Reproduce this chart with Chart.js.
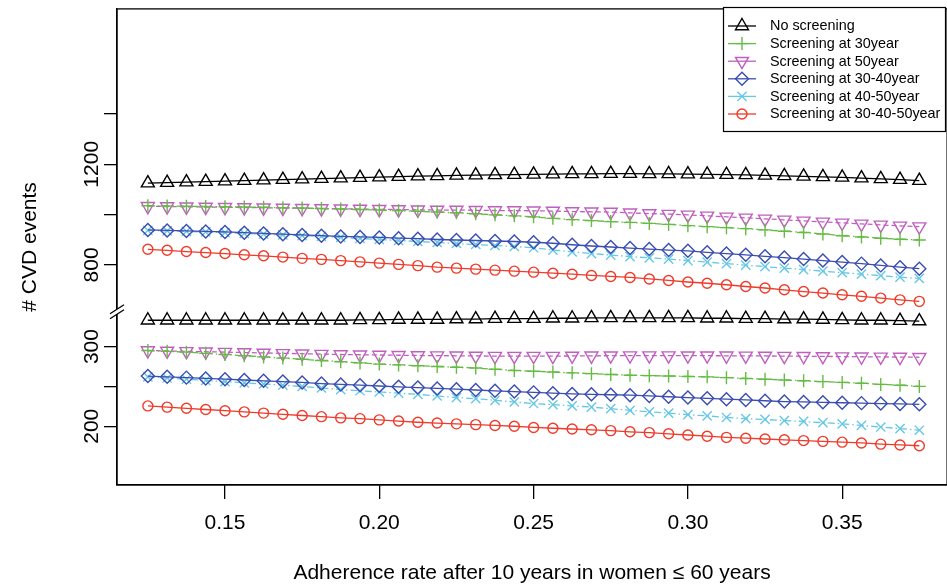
<!DOCTYPE html>
<html>
<head>
<meta charset="utf-8">
<script src="https://cdn.jsdelivr.net/npm/chart.js"></script>
<style>
  html, body { margin: 0; padding: 0; background: #fff; overflow: hidden; }
  #wrap { width: 956px; height: 585px; position: relative; }
</style>
</head>
<body>
<div id="wrap"><canvas id="cvd"></canvas></div>
<script>
// adherence rate (x) - 41 steps
const adherence = [0.125, 0.13125, 0.1375, 0.14375, 0.15, 0.15625, 0.1625, 0.16875, 0.175, 0.18125,
  0.1875, 0.19375, 0.2, 0.20625, 0.2125, 0.21875, 0.225, 0.23125, 0.2375, 0.24375,
  0.25, 0.25625, 0.2625, 0.26875, 0.275, 0.28125, 0.2875, 0.29375, 0.3, 0.30625,
  0.3125, 0.31875, 0.325, 0.33125, 0.3375, 0.34375, 0.35, 0.35625, 0.3625, 0.36875, 0.375];

const seriesNames = ['No screening', 'Screening at 30year', 'Screening at 50year',
  'Screening at 30-40year', 'Screening at 40-50year', 'Screening at 30-40-50year'];

// upper block (above the axis break)
const noScreenHigh = [1125,1127,1129,1131,1133,1135,1137,1139,1141,1143,1145,1147,1149,1151,1153,1154,1156,1157,1158,1159,
  1160,1161,1162,1162,1163,1163,1162,1162,1161,1160,1159,1158,1156,1154,1152,1150,1148,1145,1142,1139,1135];
const screen30High = [1035,1034,1033,1032,1031,1030,1029,1027,1026,1024,1022,1020,1018,1016,1013,1010,1007,1003,999,995,
  991,985,980,976,972,969,965,961,956,952,948,944,939,934,929,923,916,911,906,902,899];
const screen50High = [1033,1032,1031,1030,1029,1028,1027,1026,1025,1024,1023,1022,1021,1020,1019,1018,1018,1017,1016,1016,
  1015,1014,1012,1011,1010,1007,1004,1002,999,995,991,987,983,979,975,971,967,963,959,955,952];
const screen3040High = [939,937,935,933,931,928,925,922,919,916,913,911,909,906,904,901,899,897,895,893,
  890,886,880,875,871,867,863,859,856,850,845,840,834,829,823,817,811,805,798,791,785];
const screen4050High = [937,935,933,931,928,925,922,919,916,913,909,905,901,897,893,889,885,881,877,873,
  868,859,852,845,839,833,828,823,817,811,805,799,793,787,781,775,769,763,757,751,746];
const screen304050High = [862,858,853,849,845,840,836,831,826,822,817,812,807,802,797,791,787,783,779,775,
  771,767,763,758,754,750,744,738,732,727,721,714,708,701,694,688,681,675,668,661,655];

// lower block (below the axis break)
const noScreenLow = [333,333,333,333,333,333,333,333,333,333,333,333.5,333.5,334,334,334,334.5,334.5,335,335,
  335,335.5,335.5,336,336,336,336,336,336,335.5,335.5,335,335,334.5,334.5,334,333.5,333,333,332.5,332];
const screen30Low = [295,294,293,291.5,290,288.5,287,285.5,284,282.5,281,279.5,278,277,276,275,274,273,271.5,270,
  269,268,267,266,265,264,263.5,263,262.5,262,261,260,259,258,257,256,255,254,252.5,251.5,250];
const screen50Low = [295,294.5,294,293.5,293,292.5,292,291.5,291,290.5,290,289.7,289.4,289.1,288.8,288.6,288.4,288.2,288,288,
  288,288,288.2,288.4,288.5,288.6,288.6,288.6,288.5,288.5,288.4,288.3,288.2,288,287.8,287.6,287.4,287.2,287,286.8,286.6];
const screen3040Low = [263,262,261,260,259,258,257,256,255,253.5,252.5,251.5,250.5,249.5,248.5,247.5,246.5,245.5,244.5,243.5,
  242.5,241.5,240.5,240,239.5,239,238,237,236,235,234,233,232,231,230.5,230,229.5,229,228.5,228,227.5];
const screen4050Low = [262,260.5,259,257.5,256,254.5,253,251.5,250,248,246,244.5,243,241.5,240,238,236,234.5,232.5,230.5,
  228.5,227,225.5,224,222,220,218,216.5,214.5,213,211,209.5,208.5,207,206,204.5,203,201,199,197,195];
const screen304050Low = [225.5,224,222.5,221,219.5,218,216.5,215,213.5,212,210.5,209.5,208,206.5,205,204,203,202,201,200,
  198.5,197.5,196.5,195.5,194.5,193,192,190.5,189,187.5,186,185,184,183,182,181,180,179,177.5,176.5,175.5];

const xTicks = [0.15, 0.20, 0.25, 0.30, 0.35];
const yTicks = [200, 250, 300, 800, 1000, 1200, 1400];
const yTickLabels = [200, 300, 800, 1200];

// broken axis: lower block drawn as is, upper block squeezed and moved down
function toAxis(v) {
  return v < 550 ? v : 402.5 + (v - 800) * 0.315625;
}
const breakAt = 342.5;

const FONT = '"Liberation Sans", Arial, Helvetica, sans-serif';

const styles = [
  { color: '#000000', pointStyle: 'triangle', rotation: 0, radius: 7.5, dash: [] },
  { color: '#66BB44', pointStyle: 'cross', rotation: 0, radius: 6.5, dash: [7, 3, 1.5, 3] },
  { color: '#BF5FBF', pointStyle: 'triangle', rotation: 180, radius: 7.5, dash: [5, 3] },
  { color: '#3A4DB0', pointStyle: 'rectRot', rotation: 0, radius: 6.5, dash: [] },
  { color: '#66C8E4', pointStyle: 'crossRot', rotation: 0, radius: 6.5, dash: [7, 3, 1.5, 3] },
  { color: '#F03A2A', pointStyle: 'circle', rotation: 0, radius: 5, dash: [] }
];

const highs = [noScreenHigh, screen30High, screen50High, screen3040High, screen4050High, screen304050High];
const lows = [noScreenLow, screen30Low, screen50Low, screen3040Low, screen4050Low, screen304050Low];

function makeSet(name, vals, st) {
  return {
    label: name,
    data: adherence.map((x, i) => ({ x: x, y: toAxis(vals[i]) })),
    borderColor: st.color,
    borderWidth: 1.3,
    borderDash: st.dash,
    pointStyle: st.pointStyle,
    pointRotation: st.rotation,
    pointRadius: st.radius,
    pointHoverRadius: st.radius,
    pointBorderWidth: 1.4,
    pointBorderColor: st.color,
    pointBackgroundColor: 'rgba(0,0,0,0)',
    fill: false,
    tension: 0
  };
}

const datasets = [];
seriesNames.forEach((name, k) => {
  datasets.push(makeSet(name, highs[k], styles[k]));
  datasets.push(makeSet(name, lows[k], styles[k]));
});

// box, axis break, rotated y labels and legend (R look)
const rPlot = {
  id: 'rPlot',
  afterDraw(chart) {
    const ctx = chart.ctx;
    const a = chart.chartArea;
    const ys = chart.scales.y;
    ctx.save();
    ctx.strokeStyle = '#000';
    ctx.lineWidth = 1.3;
    ctx.setLineDash([]);
    ctx.strokeRect(a.left, a.top, a.right - a.left, a.bottom - a.top);

    // axis break
    const by = ys.getPixelForValue(breakAt);
    const x0 = a.left;
    ctx.fillStyle = '#fff';
    ctx.beginPath();
    ctx.moveTo(x0 - 7, by + 1);
    ctx.lineTo(x0 + 7, by - 8);
    ctx.lineTo(x0 + 7, by - 3);
    ctx.lineTo(x0 - 7, by + 6);
    ctx.closePath();
    ctx.fill();
    ctx.beginPath();
    ctx.moveTo(x0 - 7, by + 1);
    ctx.lineTo(x0 + 7, by - 8);
    ctx.moveTo(x0 - 7, by + 6);
    ctx.lineTo(x0 + 7, by - 3);
    ctx.stroke();

    // y tick labels, rotated like R
    ctx.fillStyle = '#000';
    ctx.font = '21px ' + FONT;
    ctx.textAlign = 'center';
    ctx.textBaseline = 'alphabetic';
    yTickLabels.forEach(v => {
      const py = ys.getPixelForValue(toAxis(v));
      ctx.save();
      ctx.translate(98, py);
      ctx.rotate(-Math.PI / 2);
      ctx.fillText(String(v), 0, 0);
      ctx.restore();
    });

    // legend
    const lx = 723.5, ly = 7.5, lw = 222, lh = 124;
    ctx.fillStyle = '#fff';
    ctx.fillRect(lx, ly, lw, lh);
    ctx.strokeStyle = '#000';
    ctx.lineWidth = 1.2;
    ctx.strokeRect(lx, ly, lw, lh);
    ctx.font = '14.4px ' + FONT;
    ctx.textAlign = 'left';
    ctx.textBaseline = 'middle';
    seriesNames.forEach((name, k) => {
      const st = styles[k];
      const ry = 26 + k * 17.6;
      ctx.strokeStyle = st.color;
      ctx.lineWidth = 1.3;
      ctx.beginPath();
      ctx.moveTo(728, ry);
      ctx.lineTo(756, ry);
      ctx.stroke();
      ctx.fillStyle = 'rgba(0,0,0,0)';
      ctx.lineWidth = 1.4;
      Chart.helpers.drawPoint(ctx, { pointStyle: st.pointStyle, rotation: st.rotation, radius: st.radius, borderWidth: 1.4 }, 742, ry);
      ctx.fillStyle = '#000';
      ctx.fillText(name, 770, ry + 0.5);
    });
    ctx.restore();
  }
};

new Chart(document.getElementById('cvd'), {
  type: 'line',
  data: { datasets: datasets },
  plugins: [rPlot],
  options: {
    responsive: true,
    maintainAspectRatio: false,
    animation: false,
    devicePixelRatio: 1,
    layout: { padding: { top: 7, right: 1, left: 0, bottom: 0 } },
    plugins: { legend: { display: false }, tooltip: { enabled: false } },
    scales: {
      x: {
        type: 'linear',
        min: 0.115,
        max: 0.384,
        afterBuildTicks: s => { s.ticks = xTicks.map(v => ({ value: v })); },
        afterFit: s => { s.height = 100; },
        grid: { drawOnChartArea: false, drawTicks: true, tickLength: 14, color: '#000', lineWidth: 1.3 },
        border: { display: true, color: '#000', width: 1.3 },
        ticks: {
          color: '#000',
          font: { family: FONT, size: 21 },
          padding: 12,
          maxRotation: 0,
          callback: v => v.toFixed(2)
        },
        title: {
          display: true,
          text: 'Adherence rate after 10 years in women \u2264 60 years',
          color: '#000',
          font: { family: FONT, size: 21, lineHeight: 1 },
          padding: { top: 0, bottom: 1 }
        }
      },
      y: {
        type: 'linear',
        min: 126.25,
        max: 723.75,
        afterBuildTicks: s => { s.ticks = yTicks.map(v => ({ value: toAxis(v) })); },
        afterFit: s => { s.width = 117; },
        grid: { drawOnChartArea: false, drawTicks: true, tickLength: 13, color: '#000', lineWidth: 1.3 },
        border: { display: true, color: '#000', width: 1.3 },
        ticks: { display: false },
        title: {
          display: true,
          text: '# CVD events',
          color: '#000',
          font: { family: FONT, size: 21 },
          padding: { top: 18, bottom: 0 }
        }
      }
    }
  }
});
</script>
</body>
</html>
